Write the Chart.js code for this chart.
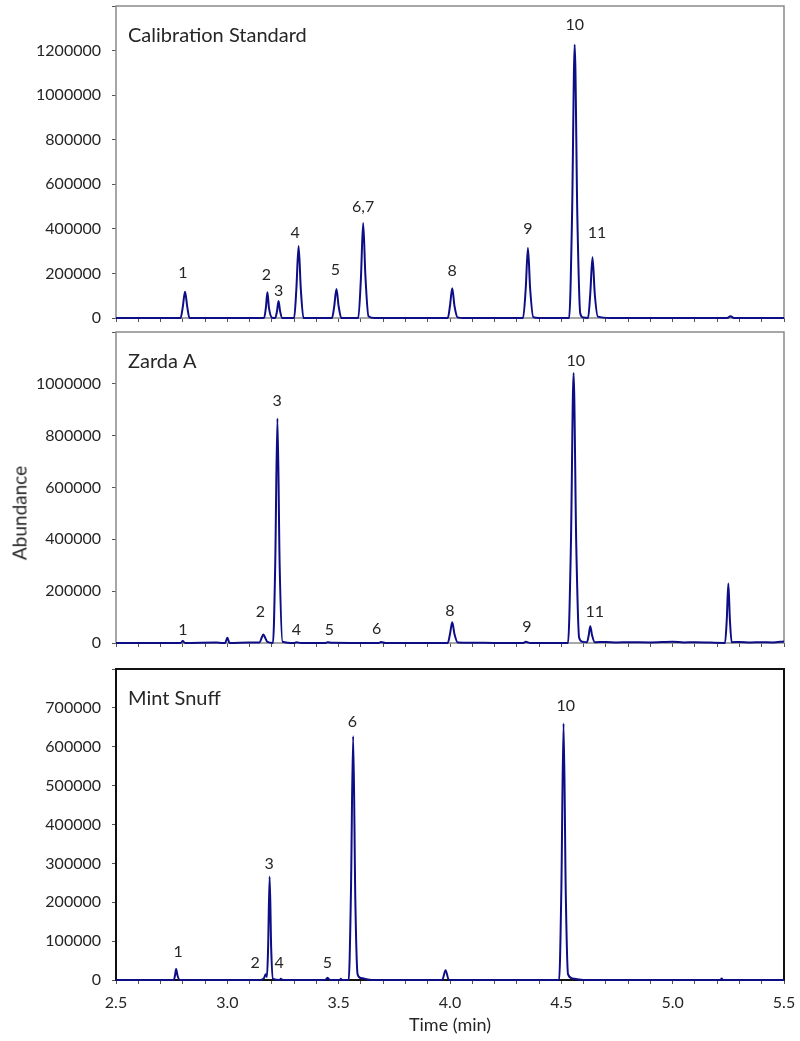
<!DOCTYPE html>
<html>
<head>
<meta charset="utf-8">
<script src="https://cdn.jsdelivr.net/npm/chart.js@4.4.1/dist/chart.umd.min.js"></script>
<style>
  body { margin: 0; background: #fff; width: 800px; height: 1041px; position: relative; overflow: hidden; font-family: Lato, sans-serif; }
  canvas { position: absolute; left: 0; }
  #ylab { position: absolute; left: 19px; top: 513px; transform: translate(-50%, -50%) rotate(-90deg); font-size: 19px; color: #262626; white-space: nowrap; }
</style>
</head>
<body>
<canvas id="calChart" width="800" height="332" style="top:0px"></canvas>
<canvas id="zardaChart" width="800" height="330" style="top:326px"></canvas>
<canvas id="mintChart" width="800" height="381" style="top:660px"></canvas>
<div id="ylab">Abundance</div>
<script>
// Calibration Standard trace
const calTime = [2.5, 2.79, 2.80, 2.81, 2.82, 2.83,
  3.165, 3.173, 3.18, 3.187, 3.2, 3.215, 3.223, 3.23, 3.237, 3.247,
  3.30, 3.31, 3.32, 3.33, 3.342, 3.47, 3.48, 3.49, 3.50, 3.512,
  3.588, 3.60, 3.61, 3.62, 3.634, 3.66, 3.99, 4.00, 4.01, 4.02, 4.034, 4.06,
  4.328, 4.34, 4.35, 4.36, 4.374, 4.40, 4.535, 4.548, 4.56, 4.572, 4.585, 4.598,
  4.62, 4.63, 4.64, 4.65, 4.664, 4.72, 5.245, 5.26, 5.275, 5.5];
const calAbund = [0, 0, 50000, 118000, 50000, 0,
  0, 45000, 115000, 45000, 2000, 0, 30000, 76000, 30000, 0,
  0, 130000, 323000, 130000, 0, 0, 52000, 130000, 52000, 0,
  0, 180000, 426000, 190000, 8000, 0, 0, 55000, 134000, 55000, 3000, 0,
  0, 130000, 314000, 130000, 4000, 0, 0, 450000, 1226000, 450000, 20000, 2000,
  0, 110000, 273000, 110000, 6000, 0, 0, 8000, 0, 0];
const calLabels = ['1', '2', '3', '4', '5', '6,7', '8', '9', '10', '11'];
const calLabelTime = [2.80, 3.175, 3.23, 3.305, 3.485, 3.61, 4.01, 4.35, 4.56, 4.66];
const calLabelLevel = [202000, 193000, 121000, 381000, 215000, 498000, 211000, 399000, 1314000, 381000];

// Zarda A trace
const zardaTime = [2.5, 2.79, 2.80, 2.81, 2.95, 2.98, 2.99, 3.00, 3.01, 3.10, 3.145,
  3.155, 3.162, 3.17, 3.18, 3.205, 3.215, 3.225, 3.235, 3.248,
  3.30, 3.31, 3.33, 3.44, 3.45, 3.47, 3.68, 3.69, 3.71,
  3.99, 4.00, 4.01, 4.02, 4.035, 4.10, 4.20, 4.33, 4.34, 4.36,
  4.53, 4.543, 4.555, 4.567, 4.58, 4.595, 4.615, 4.623, 4.63, 4.638, 4.65,
  4.70, 4.75, 4.80, 4.90, 5.00, 5.05, 5.10, 5.235, 5.243, 5.25, 5.257, 5.265,
  5.30, 5.35, 5.40, 5.45, 5.5];
const zardaAbund = [0, 0, 8000, 0, 1500, 0, 0, 20000, 0, 2000, 2000,
  22000, 33000, 20000, 4000, 0, 300000, 866000, 300000, 5000,
  0, 3000, 0, 0, 3000, 1000, 0, 4000, 0,
  0, 35000, 80000, 35000, 2000, 1000, 0, 0, 5000, 0,
  0, 380000, 1042000, 380000, 20000, 5000, 3000, 30000, 65000, 30000, 3000,
  4000, 2000, 3000, 2000, 5000, 2000, 3000, 0, 90000, 230000, 90000, 3000,
  4000, 2000, 3000, 2000, 6000];
const zardaLabels = ['1', '2', '3', '4', '5', '6', '8', '9', '10', '11'];
const zardaLabelTime = [2.80, 3.148, 3.224, 3.31, 3.458, 3.67, 4.00, 4.345, 4.565, 4.65];
const zardaLabelLevel = [50000, 119000, 935000, 50000, 50000, 54000, 123000, 61000, 1088000, 119000];

// Mint Snuff trace
const mintTime = [2.5, 2.76, 2.765, 2.77, 2.776, 2.785, 3.15, 3.165, 3.172, 3.178,
  3.183, 3.19, 3.197, 3.205, 3.235, 3.24, 3.25, 3.44, 3.45, 3.46, 3.505, 3.51, 3.515,
  3.545, 3.555, 3.565, 3.575, 3.585, 3.60, 3.65, 3.965, 3.98, 3.995,
  4.49, 4.50, 4.51, 4.52, 4.53, 4.55, 4.60, 5.215, 5.22, 5.225, 5.5];
const mintAbund = [0, 0, 12000, 28000, 12000, 0, 0, 5000, 15000, 8000,
  80000, 266000, 80000, 3000, 0, 3000, 0, 0, 6000, 0, 0, 3000, 0,
  0, 220000, 627000, 200000, 15000, 5000, 0, 0, 25000, 0,
  0, 230000, 660000, 220000, 15000, 4000, 0, 0, 4000, 0, 0];
const mintLabels = ['1', '2', '3', '4', '5', '6', '10'];
const mintLabelTime = [2.779, 3.125, 3.188, 3.233, 3.449, 3.562, 4.52];
const mintLabelLevel = [73600, 43000, 299000, 43000, 43000, 665000, 705600];

const lineColor = '#0d0d85';
const textColor = '#262626';

const panelDecor = {
  id: 'panelDecor',
  beforeDatasetsDraw(chart, args, opts) {
    const { ctx, chartArea: a } = chart;
    ctx.save();
    ctx.strokeStyle = opts.boxColor;
    ctx.lineWidth = opts.boxWidth;
    ctx.strokeRect(a.left, a.top, a.right - a.left, a.bottom - a.top);
    ctx.restore();
  },
  afterDatasetsDraw(chart, args, opts) {
    const { ctx, chartArea: a, scales: { x, y } } = chart;
    ctx.save();
    ctx.fillStyle = textColor;
    ctx.font = '16px Lato';
    ctx.textAlign = 'center';
    ctx.textBaseline = 'middle';
    opts.labels.forEach((txt, i) => {
      ctx.fillText(txt, x.getPixelForValue(opts.labelTime[i]), y.getPixelForValue(opts.labelLevel[i]));
    });
    ctx.font = '20px Lato';
    ctx.textAlign = 'left';
    ctx.fillText(opts.title, a.left + 12, a.top + 30);
    ctx.restore();
  }
};

// no automatic label padding: the plot box is placed exactly
function noPad(s) {
  s.paddingTop = 0; s.paddingBottom = 0; s.paddingLeft = 0; s.paddingRight = 0;
}

function makePanel(id, title, times, abund, labels, labelTime, labelLevel, yMax, yStep, opt) {
  return new Chart(document.getElementById(id), {
    type: 'line',
    data: {
      datasets: [{
        data: times.map((t, i) => ({ x: t, y: abund[i] })),
        borderColor: lineColor,
        borderWidth: 2,
        pointRadius: 0,
        cubicInterpolationMode: 'monotone',
        clip: 4
      }]
    },
    options: {
      responsive: false,
      animation: false,
      layout: { padding: { left: 0, right: 16, top: opt.padTop, bottom: 0 } },
      plugins: {
        legend: { display: false },
        tooltip: { enabled: false },
        panelDecor: {
          title: title, labels: labels, labelTime: labelTime, labelLevel: labelLevel,
          boxColor: opt.boxColor, boxWidth: opt.boxWidth
        }
      },
      scales: {
        x: {
          type: 'linear',
          min: 2.5, max: 5.5,
          afterFit: (s) => { s.height = opt.xHeight; noPad(s); },
          border: { display: false },
          grid: { drawOnChartArea: false, drawTicks: true, tickLength: 4, tickColor: '#555', lineWidth: 1 },
          ticks: {
            display: opt.showX,
            stepSize: 0.1,
            autoSkip: false,
            maxRotation: 0,
            padding: 9,
            color: textColor,
            font: { family: 'Lato', size: 16 },
            callback: (v) => (Math.round(v * 10) % 5 === 0 ? v.toFixed(1) : '')
          },
          title: {
            display: opt.showX,
            text: 'Time (min)',
            color: textColor,
            font: { family: 'Lato', size: 18 },
            padding: { top: 0, bottom: 5 }
          }
        },
        y: {
          min: 0, max: yMax,
          afterFit: (s) => { s.width = 116; noPad(s); },
          border: { display: false },
          grid: { drawOnChartArea: false, drawTicks: true, tickLength: 4, tickColor: '#555' },
          ticks: {
            stepSize: yStep,
            padding: 11,
            color: textColor,
            font: { family: 'Lato', size: 16 },
            callback: (v) => (v >= yMax ? '' : String(v))
          }
        }
      }
    },
    plugins: [panelDecor]
  });
}

makePanel('calChart', 'Calibration Standard', calTime, calAbund, calLabels, calLabelTime, calLabelLevel,
  1400000, 200000, { padTop: 6, xHeight: 14, showX: false, boxColor: '#8a8a8a', boxWidth: 1.5 });
makePanel('zardaChart', 'Zarda A', zardaTime, zardaAbund, zardaLabels, zardaLabelTime, zardaLabelLevel,
  1200000, 200000, { padTop: 6, xHeight: 13, showX: false, boxColor: '#8a8a8a', boxWidth: 1.5 });
makePanel('mintChart', 'Mint Snuff', mintTime, mintAbund, mintLabels, mintLabelTime, mintLabelLevel,
  800000, 100000, { padTop: 9, xHeight: 61, showX: true, boxColor: '#111', boxWidth: 2 });
</script>
</body>
</html>
